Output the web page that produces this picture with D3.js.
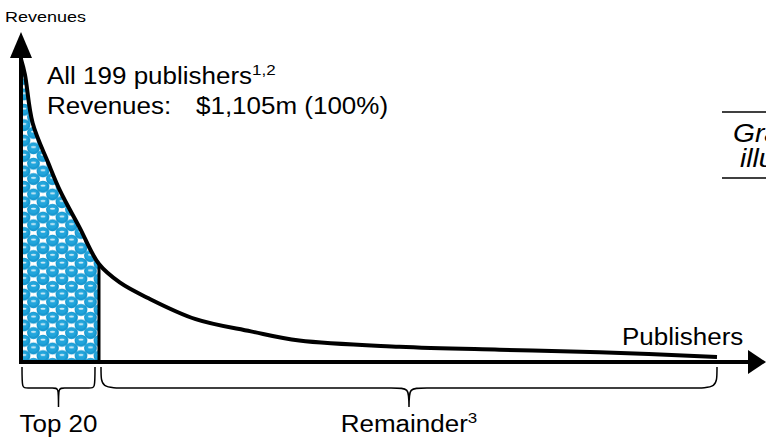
<!DOCTYPE html>
<html>
<head>
<meta charset="utf-8">
<script src="https://cdn.jsdelivr.net/npm/d3@7/dist/d3.min.js"></script>
<style>
  html, body { margin: 0; padding: 0; background: #fff; overflow: hidden; }
  svg { display: block; font-family: Arial, "Liberation Sans", sans-serif; }
</style>
</head>
<body>
<svg id="chart" width="766" height="437"></svg>
<script>
// Publisher rank (0 = largest) and revenue index along the long-tail curve
const publisherRank = [0, 1, 3, 7, 10, 15, 20, 26, 34, 48, 64, 78, 107, 136, 165, 199];
const revenueIndex  = [99, 94, 78, 65, 56, 44, 32, 26, 21, 14, 10, 7, 5, 4, 3.2, 1.6];

// Groups of publishers marked with braces under the axis
const groupNames  = ["Top 20", "Remainder"];
const groupStart  = [0, 20];
const groupEnd    = [20, 199];
const groupNotes  = ["", "3"];

// Headline text
const totalPublishers = 199;
const totalRevenue = "$1,105m";
const totalShare = "100%";

const svg = d3.select("#chart");
const W = 766, H = 437;

// rank axis is stretched for the top group so the head of the curve is readable
const x = d3.scaleLinear().domain([0, 20, 199]).range([21, 99, 717]);
const y = d3.scaleLinear().domain([0, 100]).range([362, 56]);

const pts = publisherRank.map((r, i) => ({ r, v: revenueIndex[i] }));

// bubble pattern for the top-20 area
const defs = svg.append("defs");
const TW = 19, TH = 15.4;
const pat = defs.append("pattern")
  .attr("id", "bubbles")
  .attr("patternUnits", "userSpaceOnUse")
  .attr("x", 24).attr("y", 2)
  .attr("width", TW).attr("height", TH);
pat.append("rect").attr("width", TW).attr("height", TH).attr("fill", "#fff");
[[0,0],[TW,0],[0,TH],[TW,TH],[TW/2,TH/2]].forEach(([cx, cy]) => {
  pat.append("ellipse").attr("cx", cx).attr("cy", cy).attr("rx", 6.4).attr("ry", 6).attr("fill", "#1898d0");
  pat.append("ellipse").attr("cx", cx - 0.4).attr("cy", cy - 0.8).attr("rx", 4.8).attr("ry", 4.4).attr("fill", "#21a5dc");
  pat.append("ellipse").attr("cx", cx).attr("cy", cy - 1.2).attr("rx", 2.6).attr("ry", 1)
    .attr("fill", "#fff").attr("opacity", 0.8);
});

const curve = d3.curveCatmullRom.alpha(0.5);

// shaded area under the curve for the top group
const headPts = pts.filter(d => d.r <= groupEnd[0]);
svg.append("path")
  .datum(headPts)
  .attr("d", d3.area().x(d => x(d.r)).y0(y(0)).y1(d => y(d.v)).curve(curve))
  .attr("fill", "url(#bubbles)");

// right edge of the shaded area
svg.append("line")
  .attr("x1", x(groupEnd[0])).attr("x2", x(groupEnd[0]))
  .attr("y1", y(0)).attr("y2", y(headPts[headPts.length - 1].v))
  .attr("stroke", "#000").attr("stroke-width", 3);

// revenue curve
svg.append("path")
  .datum(pts)
  .attr("d", d3.line().x(d => x(d.r)).y(d => y(d.v)).curve(curve))
  .attr("fill", "none").attr("stroke", "#000").attr("stroke-width", 4)
  .attr("stroke-linecap", "butt");

// axes with arrowheads
svg.append("line").attr("x1", x(0)).attr("x2", x(0)).attr("y1", y(0) + 2).attr("y2", 56)
  .attr("stroke", "#000").attr("stroke-width", 4);
svg.append("path").attr("d", `M${x(0)},32 L${x(0) - 11},58 L${x(0) + 11},58 Z`).attr("fill", "#000");
svg.append("line").attr("x1", x(0) - 2).attr("x2", 752).attr("y1", y(0)).attr("y2", y(0))
  .attr("stroke", "#000").attr("stroke-width", 4);
svg.append("path").attr("d", `M766,${y(0)} L748,${y(0) - 12} L748,${y(0) + 12} Z`).attr("fill", "#000");

// text helper: Arial stretched slightly wider
const SX = 1.13;
function label(px, py, size, anchor, sx) {
  return svg.append("text")
    .attr("transform", `translate(${px},${py}) scale(${sx || SX},1)`)
    .attr("font-size", size)
    .attr("text-anchor", anchor || "start")
    .attr("fill", "#000");
}

label(5, 22, 15, "start", 1.2).text("Revenues");
label(622, 345, 23).text("Publishers");

const head = label(47, 84, 23);
head.append("tspan").text(`All ${totalPublishers} publishers`);
head.append("tspan").attr("font-size", 15).attr("dy", -9).text("1,2");
label(47, 114, 23).text("Revenues:");
label(196, 114, 23).text(`${totalRevenue} (${totalShare})`);

// braces under the axis
function bracePath(x1, x2, y0, y1, y2) {
  const m = (x1 + x2) / 2;
  const w = x2 - x1;
  const re = Math.min(30, w / 12);
  const rt = Math.min(18, w / 12);
  return `M${x1},${y0} C${x1},${y1} ${x1},${y1} ${x1 + re},${y1} ` +
         `L${m - rt},${y1} C${m},${y1} ${m},${y1} ${m},${y2} ` +
         `C${m},${y1} ${m},${y1} ${m + rt},${y1} ` +
         `L${x2 - re},${y1} C${x2},${y1} ${x2},${y1} ${x2},${y0}`;
}
groupNames.forEach((g, i) => {
  const x1 = x(groupStart[i]) + (i === 0 ? 1 : 2);
  const x2 = x(groupEnd[i]) - (i === 0 ? 4 : 0);
  svg.append("path")
    .attr("d", bracePath(x1, x2, 367, 388, 407))
    .attr("fill", "none").attr("stroke", "#000").attr("stroke-width", 1.5);
  const t = label((x1 + x2) / 2, 432, 23, "middle");
  t.append("tspan").text(g);
  if (groupNotes[i]) t.append("tspan").attr("font-size", 15).attr("dy", -9).text(groupNotes[i]);
});

// side note box (runs off the right edge)
svg.append("line").attr("x1", 722).attr("x2", W).attr("y1", 112).attr("y2", 112)
  .attr("stroke", "#000").attr("stroke-width", 1.5);
svg.append("line").attr("x1", 722).attr("x2", W).attr("y1", 178).attr("y2", 178)
  .attr("stroke", "#000").attr("stroke-width", 1.5);
label(733, 142, 25).attr("font-style", "italic").text("Graph for");
label(740, 167, 25).attr("font-style", "italic").text("illustration");
</script>
</body>
</html>
